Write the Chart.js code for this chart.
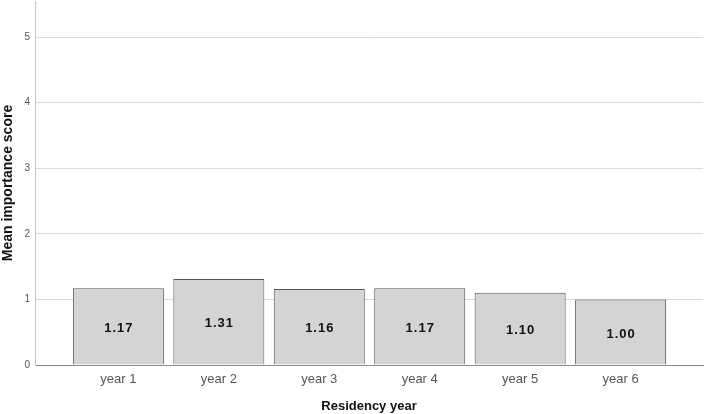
<!DOCTYPE html>
<html>
<head>
<meta charset="utf-8">
<script src="https://cdn.jsdelivr.net/npm/chart.js@4/dist/chart.umd.min.js"></script>
<style>
  html, body { margin: 0; padding: 0; background: #fff; }
  #wrap { width: 707px; height: 414px; }
</style>
</head>
<body>
<div id="wrap"><canvas id="myChart"></canvas></div>
<script>
const years = ['year 1', 'year 2', 'year 3', 'year 4', 'year 5', 'year 6'];
const meanScores = [1.17, 1.31, 1.16, 1.17, 1.10, 1.00];
const yTicks = [0, 1, 2, 3, 4, 5];

const FONT = '"Liberation Sans", Arial, sans-serif';

// labels written in the middle of each bar
const barLabels = {
    id: 'barLabels',
    afterDatasetsDraw(chart) {
        const c = chart.ctx;
        const meta = chart.getDatasetMeta(0);
        c.save();
        c.font = 'bold 13px ' + FONT;
        c.letterSpacing = '1px';
        c.fillStyle = '#111';
        c.textAlign = 'center';
        c.textBaseline = 'middle';
        meta.data.forEach((bar, i) => {
            c.fillText(meanScores[i].toFixed(2), bar.x + 0.5, (bar.y + bar.base) / 2 + 2);
        });
        c.restore();
    }
};

const ctx = document.getElementById('myChart');

new Chart(ctx, {
    type: 'bar',
    data: {
        datasets: [{
            data: meanScores.map((v, i) => ({x: i + 1, y: v})),
            backgroundColor: '#d4d4d4',
            borderColor: '#555',
            borderWidth: 1,
            barPercentage: 0.906,
            categoryPercentage: 1
        }]
    },
    options: {
        responsive: true,
        maintainAspectRatio: false,
        animation: false,
        layout: { padding: { top: 1, right: 4, bottom: 0, left: 0 } },
        plugins: { legend: { display: false }, tooltip: { enabled: false } },
        scales: {
            x: {
                type: 'linear',
                offset: false,
                min: 0.17,
                max: 6.82,
                afterBuildTicks(scale) {
                    scale.ticks = years.map((y, i) => ({value: i + 1}));
                },
                afterFit(scale) {
                    scale.height = 49;
                    scale.paddingLeft = 0;
                    scale.paddingRight = 0;
                },
                grid: { display: false, offset: false },
                border: { display: true, color: '#8a8a8a', width: 1 },
                ticks: {
                    color: '#555',
                    font: { family: FONT, size: 13 },
                    padding: -1,
                    autoSkip: false,
                    maxRotation: 0,
                    callback: v => years[v - 1]
                },
                title: {
                    display: true,
                    text: 'Residency year',
                    color: '#111',
                    font: { family: FONT, size: 13, weight: 'bold' },
                    padding: { top: 0, bottom: 0 }
                }
            },
            y: {
                min: 0,
                max: 5.55,
                afterBuildTicks(scale) {
                    scale.ticks = yTicks.map(v => ({value: v}));
                },
                afterFit(scale) {
                    scale.width = 35;
                    scale.paddingTop = 0;
                    scale.paddingBottom = 0;
                },
                grid: { color: '#dedada', drawTicks: false, lineWidth: 1 },
                border: { display: true, color: '#c9c3c3', width: 1 },
                ticks: {
                    color: '#555',
                    font: { family: FONT, size: 10 },
                    padding: 5
                },
                title: {
                    display: true,
                    text: 'Mean importance score',
                    color: '#111',
                    font: { family: FONT, size: 14, weight: 'bold' },
                    padding: { top: 0, bottom: 0 }
                }
            }
        }
    },
    plugins: [barLabels]
});
</script>
</body>
</html>
